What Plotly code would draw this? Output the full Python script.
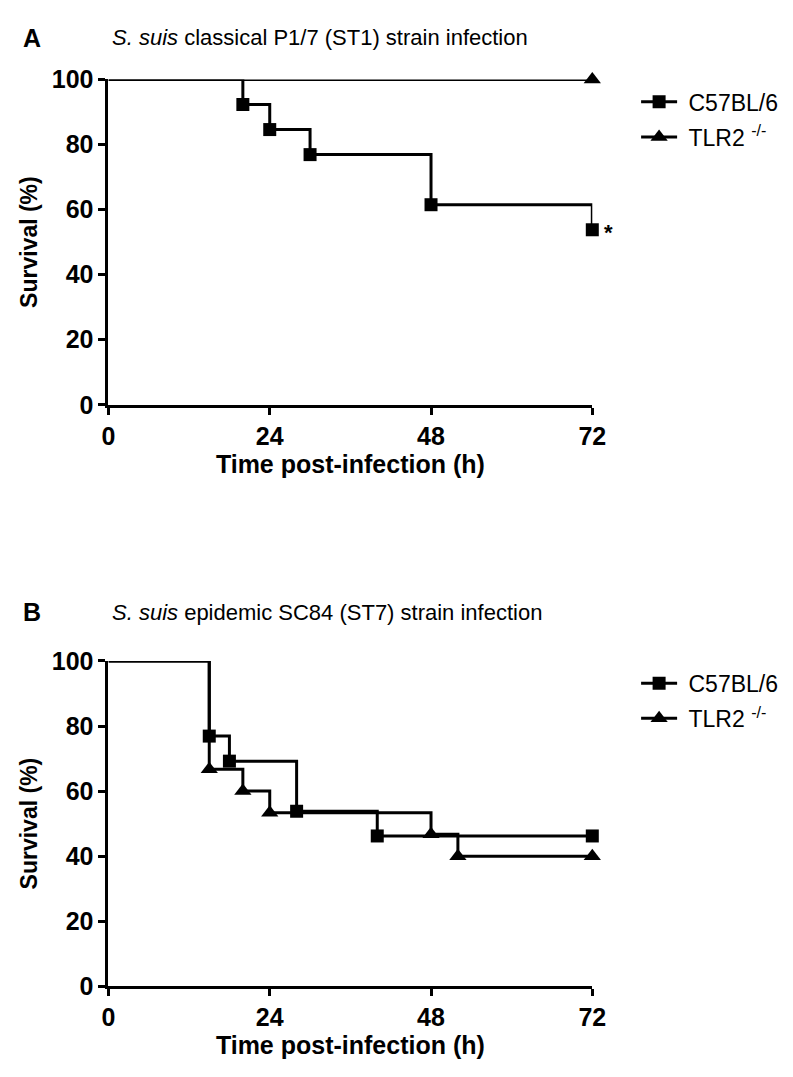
import plotly.graph_objects as go

# ---- data ----
a_c57_t = [0, 20, 24, 30, 48, 72]
a_c57_s = [100, 92.3, 84.6, 76.9, 61.5, 53.8]
a_tlr_t = [0, 72]
a_tlr_s = [100, 100]

b_c57_t = [0, 15, 18, 28, 40, 72]
b_c57_s = [100, 76.9, 69.2, 53.8, 46.2, 46.2]
b_tlr_t = [0, 15, 20, 24, 48, 52, 72]
b_tlr_s = [100, 66.7, 60, 53.3, 46.7, 40, 40]

x_ticks = [0, 24, 48, 72]
y_ticks = [0, 20, 40, 60, 80, 100]
series_names = ["&nbsp;C57BL/6", "&nbsp;TLR2 <sup>-/-</sup>"]
titles = ["<i>S. suis</i> classical P1/7 (ST1) strain infection",
          "<i>S. suis</i> epidemic SC84 (ST7) strain infection"]
panel_labels = ["A", "B"]

W, H = 793, 1077
BLACK = "#000000"
LW = 3
FAM = "Liberation Sans, Arial, Helvetica, sans-serif"

fig = go.Figure()

def add_panel(xa, ya, c57_t, c57_s, tlr_t, tlr_s, lg1, lg2):
    fig.add_trace(go.Scatter(x=tlr_t, y=tlr_s, mode="lines", line=dict(color=BLACK, width=LW, shape="hv"),
                             xaxis=xa, yaxis=ya, showlegend=False, hoverinfo="skip", cliponaxis=False))
    fig.add_trace(go.Scatter(x=tlr_t[1:], y=tlr_s[1:], mode="markers",
                             marker=dict(symbol="triangle-up", size=15, color=BLACK),
                             xaxis=xa, yaxis=ya, showlegend=False, cliponaxis=False))
    fig.add_trace(go.Scatter(x=c57_t, y=c57_s, mode="lines", line=dict(color=BLACK, width=LW, shape="hv"),
                             xaxis=xa, yaxis=ya, showlegend=False, hoverinfo="skip", cliponaxis=False))
    fig.add_trace(go.Scatter(x=c57_t[1:], y=c57_s[1:], mode="markers",
                             marker=dict(symbol="square", size=13, color=BLACK),
                             xaxis=xa, yaxis=ya, showlegend=False, cliponaxis=False))
    fig.add_trace(go.Scatter(x=[None], y=[None], mode="lines+markers", name=series_names[0],
                             line=dict(color=BLACK, width=LW), marker=dict(symbol="square", size=13, color=BLACK),
                             xaxis=xa, yaxis=ya, legend=lg1))
    fig.add_trace(go.Scatter(x=[None], y=[None], mode="lines+markers", name=series_names[1],
                             line=dict(color=BLACK, width=LW), marker=dict(symbol="triangle-up", size=15, color=BLACK),
                             xaxis=xa, yaxis=ya, legend=lg2))

add_panel("x", "y", a_c57_t, a_c57_s, a_tlr_t, a_tlr_s, "legend", "legend2")
add_panel("x2", "y2", b_c57_t, b_c57_s, b_tlr_t, b_tlr_s, "legend3", "legend4")

x0, x1 = 96 / W, 593 / W
def py(p):
    return 1 - p / H

tickfont = dict(family=FAM, size=25, color=BLACK, weight="bold")

def xaxis_cfg(anchor):
    return dict(domain=[x0, x1], range=[0, 72], anchor=anchor, tickvals=x_ticks,
                showline=True, linecolor=BLACK, linewidth=LW, ticks="outside", ticklen=7, tickwidth=LW,
                tickcolor=BLACK, showgrid=False, zeroline=False, tickfont=tickfont,
                title=dict(text="Time post-infection (h)",
                           font=dict(family=FAM, size=25, color=BLACK, weight="bold"), standoff=7))

def yaxis_cfg(anchor, dom):
    return dict(domain=dom, range=[0, 100], anchor=anchor, tickvals=y_ticks,
                showline=True, linecolor=BLACK, linewidth=LW, ticks="outside", ticklen=7, tickwidth=LW,
                tickcolor=BLACK, showgrid=False, zeroline=False, tickfont=tickfont,
                title=dict(text="Survival (%)",
                           font=dict(family=FAM, size=23, color=BLACK, weight="bold"), standoff=8))

legend_font = dict(family=FAM, size=23, color=BLACK)
def legend_cfg(ypix):
    return dict(x=638 / W, y=py(ypix), xanchor="left", yanchor="middle", font=legend_font,
                bgcolor="rgba(0,0,0,0)", itemwidth=36, borderwidth=0)

fig.update_layout(
    width=W, height=H, margin=dict(l=0, r=0, t=0, b=0),
    paper_bgcolor="white", plot_bgcolor="white",
    xaxis=xaxis_cfg("y"), yaxis=yaxis_cfg("x", [py(393), py(59)]),
    xaxis2=xaxis_cfg("y2"), yaxis2=yaxis_cfg("x2", [py(990), py(656)]),
    legend=legend_cfg(82), legend2=legend_cfg(118),
    legend3=legend_cfg(679), legend4=legend_cfg(715),
    showlegend=True,
)

for t, lab, ypix in zip(titles, panel_labels, [16, 606]):
    fig.add_annotation(text=t, x=98 / W, y=py(ypix), xref="paper", yref="paper",
                       xanchor="left", yanchor="middle", showarrow=False,
                       font=dict(family=FAM, size=22, color=BLACK))
    fig.add_annotation(text=lab, x=6 / W, y=py(ypix), xref="paper", yref="paper",
                       xanchor="left", yanchor="middle", showarrow=False,
                       font=dict(family=FAM, size=25, color=BLACK, weight="bold"))

fig.add_annotation(text="*", x=a_c57_t[-1], y=a_c57_s[-1], xref="x", yref="y",
                   xanchor="left", yanchor="middle", xshift=10, yshift=-3, showarrow=False,
                   font=dict(family=FAM, size=22, color=BLACK, weight="bold"))

fig.write_html("out.html")
